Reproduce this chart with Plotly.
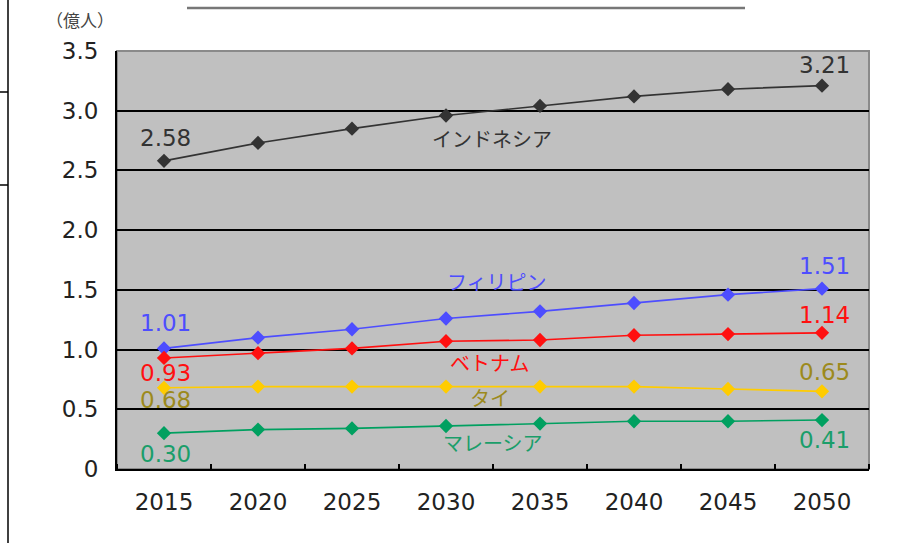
import plotly.graph_objects as go

years = [2015, 2020, 2025, 2030, 2035, 2040, 2045, 2050]
indonesia = [2.58, 2.73, 2.85, 2.96, 3.04, 3.12, 3.18, 3.21]
philippines = [1.01, 1.10, 1.17, 1.26, 1.32, 1.39, 1.46, 1.51]
vietnam = [0.93, 0.97, 1.01, 1.07, 1.08, 1.12, 1.13, 1.14]
thailand = [0.68, 0.69, 0.69, 0.69, 0.69, 0.69, 0.67, 0.65]
malaysia = [0.30, 0.33, 0.34, 0.36, 0.38, 0.40, 0.40, 0.41]
names = ["インドネシア", "フィリピン", "ベトナム", "タイ", "マレーシア"]
ytickvals = [0, 0.5, 1.0, 1.5, 2.0, 2.5, 3.0, 3.5]
yticktext = ["0", "0.5", "1.0", "1.5", "2.0", "2.5", "3.0", "3.5"]
unit_label = "（億人）"

series = [indonesia, philippines, vietnam, thailand, malaysia]
line_colors = ["#333333", "#4d4dff", "#ff1010", "#ffcc00", "#00a060"]
text_colors = ["#333333", "#4d4dff", "#ff1010", "#9c8a1c", "#1a9e6a"]
# (yshift first label, yshift last label) in pixels
val_shift = [(23, 21), (25, 23), (-15, 18), (-12, 19), (-21, -20)]
# name label positions (year-axis units, value units)
name_pos = [(2032.45, 2.764), (2032.7, 1.566), (2032.3, 0.888), (2032.35, 0.595), (2032.5, 0.218)]

NUM_FONT = "DejaVu Sans"
JP_FONT = "Noto Sans CJK JP"

W, H = 901, 543
L, R, T, B = 117, 32, 51, 74
pw, ph = W - L - R, H - T - B


def px_x(p):
    return (p - L) / pw


def px_y(p):
    return (H - B - p) / ph


step = years[1] - years[0]
x_range = [years[0] - step / 2, years[-1] + step / 2]
boundaries = [years[0] - step / 2 + i * step for i in range(len(years) + 1)]

fig = go.Figure()
for vals, nm, lc in zip(series, names, line_colors):
    fig.add_trace(go.Scatter(
        x=years, y=vals, name=nm, mode="lines+markers",
        line=dict(color=lc, width=1.6),
        marker=dict(symbol="diamond", size=11, color=lc),
        showlegend=False, cliponaxis=False,
    ))

annotations = []
for vals, tc, (s0, s1) in zip(series, text_colors, val_shift):
    annotations.append(dict(x=years[0], y=vals[0], xref="x", yref="y", text=f"{vals[0]:.2f}",
                            showarrow=False, yshift=s0, xshift=1,
                            xanchor="center", yanchor="middle",
                            font=dict(family=NUM_FONT, size=23, color=tc)))
    annotations.append(dict(x=years[-1], y=vals[-1], xref="x", yref="y", text=f"{vals[-1]:.2f}",
                            showarrow=False, yshift=s1, xshift=2,
                            xanchor="center", yanchor="middle",
                            font=dict(family=NUM_FONT, size=23, color=tc)))
for nm, tc, (px, py) in zip(names, text_colors, name_pos):
    annotations.append(dict(x=px, y=py, xref="x", yref="y", text=nm, showarrow=False,
                            xanchor="center", yanchor="middle",
                            font=dict(family=JP_FONT, size=20, color=tc)))
annotations.append(dict(x=px_x(80), y=px_y(20), xref="paper", yref="paper", text=unit_label,
                        showarrow=False, xanchor="center", yanchor="middle",
                        font=dict(family=JP_FONT, size=17, color="#444444")))

shapes = [
    # gray plot border (top/right)
    dict(type="rect", xref="paper", yref="paper", x0=0, x1=1, y0=0, y1=1,
         line=dict(color="#8a8a8a", width=2), fillcolor="rgba(0,0,0,0)", layer="below"),
    # page border on the left
    dict(type="line", xref="paper", yref="paper", x0=px_x(8), x1=px_x(8), y0=px_y(0), y1=px_y(543),
         line=dict(color="#000000", width=1.5)),
    dict(type="line", xref="paper", yref="paper", x0=px_x(0), x1=px_x(8), y0=px_y(92), y1=px_y(92),
         line=dict(color="#000000", width=1.5)),
    dict(type="line", xref="paper", yref="paper", x0=px_x(0), x1=px_x(8), y0=px_y(185), y1=px_y(185),
         line=dict(color="#000000", width=1.5)),
    # title underline (title itself cut off above the view)
    dict(type="line", xref="paper", yref="paper", x0=px_x(187), x1=px_x(745), y0=px_y(8), y1=px_y(8),
         line=dict(color="#777777", width=2.5)),
]

fig.update_layout(
    width=W, height=H,
    margin=dict(l=L, r=R, t=T, b=B, pad=0),
    paper_bgcolor="#ffffff", plot_bgcolor="#c0c0c0",
    annotations=annotations, shapes=shapes,
    xaxis=dict(range=x_range, tickvals=years, ticktext=[str(y) for y in years],
               showgrid=False, showline=True, linecolor="#000000", linewidth=2,
               ticks="", tickfont=dict(family=NUM_FONT, size=23, color="#222222"),
               ticklabelstandoff=11, zeroline=False,
               minor=dict(tickvals=boundaries, ticks="inside", ticklen=5, tickcolor="#000000",
                          tickwidth=2, showgrid=False)),
    yaxis=dict(range=[0, 3.5], tickvals=ytickvals, ticktext=yticktext, showgrid=True,
               gridcolor="#000000", gridwidth=2, showline=True, linecolor="#000000", linewidth=2,
               ticks="inside", ticklen=6, tickcolor="#000000", tickwidth=2,
               tickfont=dict(family=NUM_FONT, size=23, color="#222222"), ticklabelstandoff=12,
               zeroline=False),
)

fig.write_html("out.html")
